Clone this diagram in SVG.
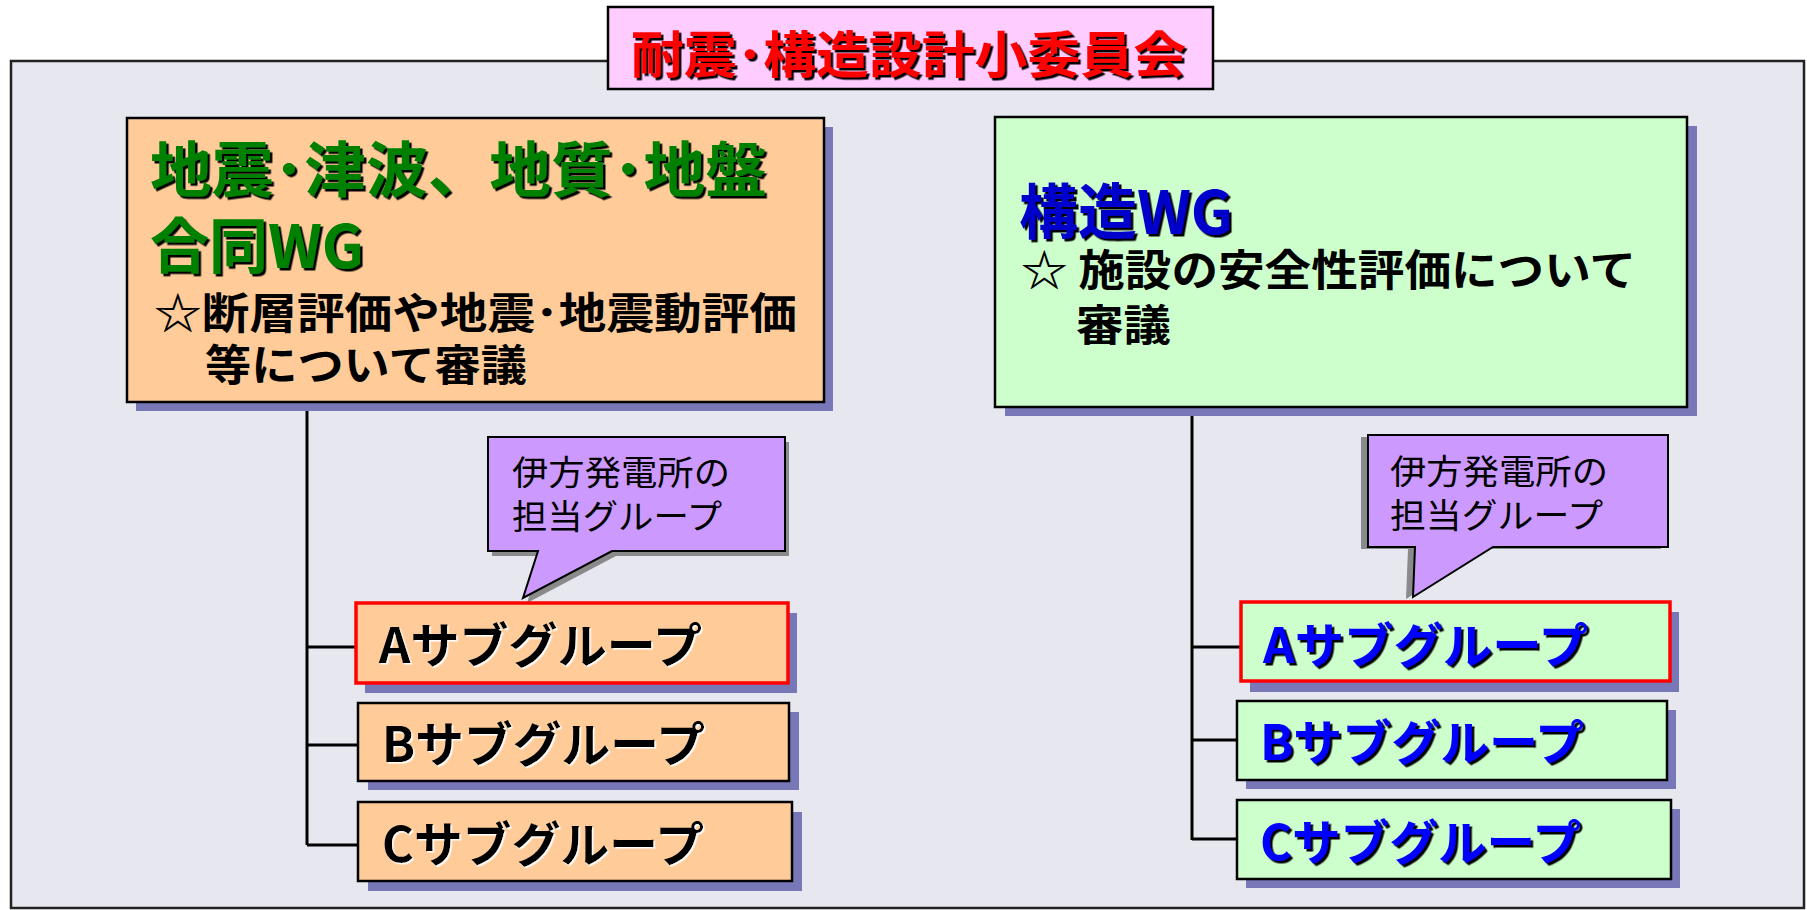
<svg xmlns="http://www.w3.org/2000/svg" width="1807" height="910" viewBox="0 0 1807 910">
<style>
text{font-family:"Noto Sans CJK JP","Liberation Sans",sans-serif;font-weight:bold}
.box{stroke:#000;stroke-width:2.5}
.shadow{fill:#7878B8}
.cshadow{fill:#8A8A8A}
.conn{stroke:#000;stroke-width:3;fill:none}
.orange{fill:#FFCC99}
.green{fill:#CCFFCC}
.call{fill:#CC99FF;stroke:#000;stroke-width:2}
.ttl{fill:#FF0000;font-size:50px}
.gr{fill:#008000;font-size:60px}
.bl{fill:#0000CC;font-size:60px}
.desc{fill:#000;font-size:43px}
.sub{font-size:48px}
.cl{fill:#000;font-size:34px;font-weight:normal}
</style>
<defs>
<filter id="sdark" x="-5%" y="-20%" width="110%" height="140%"><feDropShadow dx="2.5" dy="2.5" stdDeviation="0" flood-color="#000"/></filter>
<filter id="swhite" x="-5%" y="-20%" width="110%" height="140%"><feDropShadow dx="1.5" dy="1.5" stdDeviation="0" flood-color="#fff"/></filter>
</defs>

<rect id="frame" x="11" y="61" width="1793" height="847" fill="#E7E7F0" stroke="#222" stroke-width="2.5"/>

<g id="title">
<rect x="608" y="7" width="605" height="82" fill="#FFCCFF" class="box" stroke-width="2"/>
<text x="631" y="73" class="ttl" textLength="555" lengthAdjust="spacingAndGlyphs" filter="url(#sdark)">耐震･構造設計小委員会</text>
</g>

<g id="connectors">
<path class="conn" d="M307,402 V845 M307,647 H356 M307,745 H358 M307,845 H358"/>
<path class="conn" d="M1192,407 V840 M1192,647 H1241 M1192,740 H1237 M1192,839 H1237"/>
</g>

<g id="wg-left">
<rect x="136" y="127" width="697" height="284" class="shadow"/>
<rect x="127" y="118" width="697" height="284" class="box orange"/>
<text x="150" y="192" class="gr" textLength="617" lengthAdjust="spacingAndGlyphs" filter="url(#sdark)">地震･津波、地質･地盤</text>
<text x="150" y="268" class="gr" textLength="214" lengthAdjust="spacingAndGlyphs" filter="url(#sdark)">合同WG</text>
<text x="154" y="329" class="desc" textLength="643" lengthAdjust="spacingAndGlyphs">☆断層評価や地震･地震動評価</text>
<text x="205" y="381" class="desc" textLength="322" lengthAdjust="spacingAndGlyphs">等について審議</text>
</g>

<g id="wg-right">
<rect x="1005" y="126" width="692" height="290" class="shadow"/>
<rect x="995" y="117" width="692" height="290" class="box green"/>
<text x="1019" y="234" class="bl" textLength="214" lengthAdjust="spacingAndGlyphs" filter="url(#sdark)">構造WG</text>
<text x="1021" y="286" class="desc" textLength="615" lengthAdjust="spacingAndGlyphs">☆ 施設の安全性評価について</text>
<text x="1076" y="341" class="desc" textLength="95" lengthAdjust="spacingAndGlyphs">審議</text>
</g>

<g id="callout-left">
<path class="cshadow" d="M492,442 H789 V556 H616 L527,603 L542,556 H492 Z"/>
<path class="call" d="M488,437 H785 V551 H612 L523,598 L538,551 H488 Z"/>
<text x="512" y="485" class="cl" textLength="218" lengthAdjust="spacingAndGlyphs">伊方発電所の</text>
<text x="512" y="529" class="cl" textLength="210" lengthAdjust="spacingAndGlyphs">担当グループ</text>
</g>

<g id="callout-right">
<path class="cshadow" d="M1361,437 H1661 V549 H1486 L1406,599 L1408,549 H1361 Z"/>
<path class="call" d="M1368,435 H1668 V547 H1493 L1413,597 L1415,547 H1368 Z"/>
<text x="1390" y="484" class="cl" textLength="218" lengthAdjust="spacingAndGlyphs">伊方発電所の</text>
<text x="1390" y="528" class="cl" textLength="213" lengthAdjust="spacingAndGlyphs">担当グループ</text>
</g>

<g id="sub-left-a">
<rect x="365" y="613" width="432" height="80" class="shadow"/>
<rect x="356" y="603" width="432" height="80" class="orange" stroke="#FF0000" stroke-width="3.5"/>
<text x="379" y="663" class="sub" fill="#000" textLength="323" lengthAdjust="spacingAndGlyphs" filter="url(#swhite)">Aサブグループ</text>
</g>
<g id="sub-left-b">
<rect x="368" y="712" width="431" height="78" class="shadow"/>
<rect x="358" y="703" width="431" height="78" class="box orange"/>
<text x="382" y="762" class="sub" fill="#000" textLength="323" lengthAdjust="spacingAndGlyphs" filter="url(#swhite)">Bサブグループ</text>
</g>
<g id="sub-left-c">
<rect x="368" y="812" width="434" height="79" class="shadow"/>
<rect x="358" y="802" width="434" height="79" class="box orange"/>
<text x="382" y="862" class="sub" fill="#000" textLength="322" lengthAdjust="spacingAndGlyphs" filter="url(#swhite)">Cサブグループ</text>
</g>

<g id="sub-right-a">
<rect x="1250" y="612" width="429" height="80" class="shadow"/>
<rect x="1241" y="602" width="429" height="79" class="green" stroke="#FF0000" stroke-width="3.5"/>
<text x="1263" y="663" class="sub" fill="#0000FF" textLength="325" lengthAdjust="spacingAndGlyphs" filter="url(#sdark)">Aサブグループ</text>
</g>
<g id="sub-right-b">
<rect x="1246" y="710" width="430" height="79" class="shadow"/>
<rect x="1237" y="701" width="430" height="79" class="box green"/>
<text x="1260" y="760" class="sub" fill="#0000FF" textLength="324" lengthAdjust="spacingAndGlyphs" filter="url(#sdark)">Bサブグループ</text>
</g>
<g id="sub-right-c">
<rect x="1246" y="809" width="434" height="79" class="shadow"/>
<rect x="1237" y="800" width="434" height="79" class="box green"/>
<text x="1260" y="860" class="sub" fill="#0000FF" textLength="321" lengthAdjust="spacingAndGlyphs" filter="url(#sdark)">Cサブグループ</text>
</g>
</svg>
